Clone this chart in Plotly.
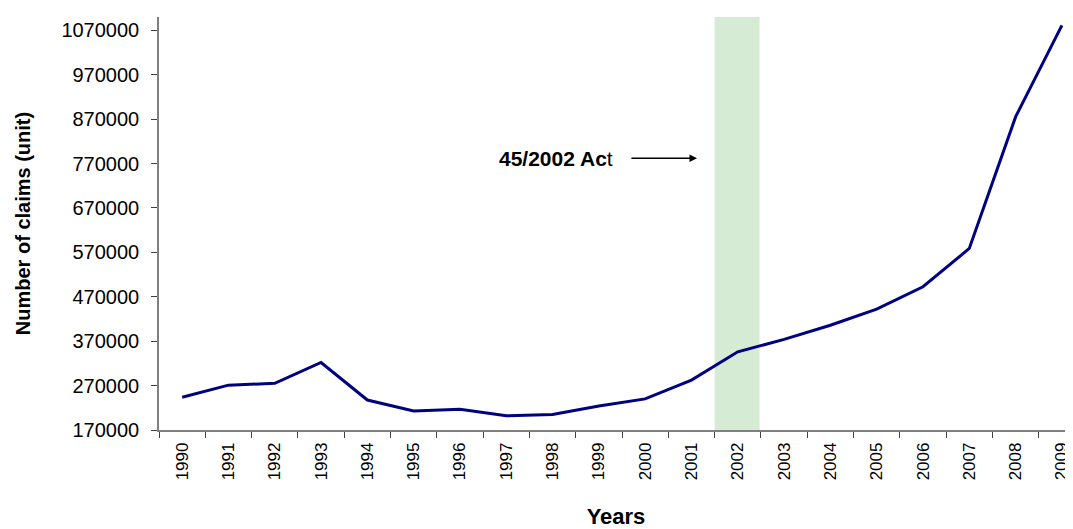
import plotly.graph_objects as go

years = [str(y) for y in range(1990, 2010)]
claims = [243600, 271000, 275000, 322000, 237500, 212800, 216500, 202000, 205000, 224000,
          240000, 282500, 346000, 374000, 406000, 442000, 492500, 578750, 875000, 1081000]
y_ticks = list(range(170000, 1070001, 100000))
act_year = "2002"
act_label = "<b>45/2002 Ac</b>t"

font_family = "Liberation Sans, Arial, sans-serif"

fig = go.Figure()
fig.add_trace(go.Scatter(x=years, y=claims, mode="lines",
                         line=dict(color="#000080", width=3), showlegend=False))

idx = years.index(act_year)
fig.add_shape(type="rect", xref="x", yref="paper", x0=idx - 0.5, x1=idx + 0.47, y0=0, y1=1,
              fillcolor="#D6EBD4", line=dict(width=0), layer="below")

fig.add_annotation(x=idx - 0.88, y=782000, ax=idx - 2.33, ay=782000, xref="x", yref="y",
                   axref="x", ayref="y", text="", showarrow=True, arrowhead=2,
                   arrowsize=1, arrowwidth=1.5, arrowcolor="black")
fig.add_annotation(x=idx - 3.93, y=782000, xref="x", yref="y", text=act_label, showarrow=False,
                   font=dict(family=font_family, size=21, color="black"))

# the page places the figure 8px in from the top-left corner
fig.update_layout(
    width=1065, height=521,
    margin=dict(l=151, r=0, t=9, b=99),
    paper_bgcolor="white", plot_bgcolor="white",
    font=dict(family=font_family, color="black"),
)
fig.update_xaxes(type="category", range=[-0.5, 19.24], showgrid=False, automargin=False,
                 showline=True, linecolor="#808080", linewidth=1.5,
                 ticks="outside", ticklen=6, tickcolor="#404040", tickson="boundaries",
                 tickangle=-90, tickfont=dict(size=17), ticklabelstandoff=4,
                 title=dict(text="<b>Years</b>", font=dict(size=22), standoff=38))
fig.update_yaxes(range=[170000, 1100000], tickmode="array", tickvals=y_ticks,
                 ticktext=[str(v) for v in y_ticks], showgrid=False, zeroline=False,
                 automargin=False,
                 showline=True, linecolor="#808080", linewidth=1.5,
                 ticks="outside", ticklen=6, tickcolor="#404040",
                 tickfont=dict(size=20), ticklabelstandoff=8,
                 title=dict(text="<b>Number of claims (unit)</b>", font=dict(size=20), standoff=25))

fig.write_html("out.html")
